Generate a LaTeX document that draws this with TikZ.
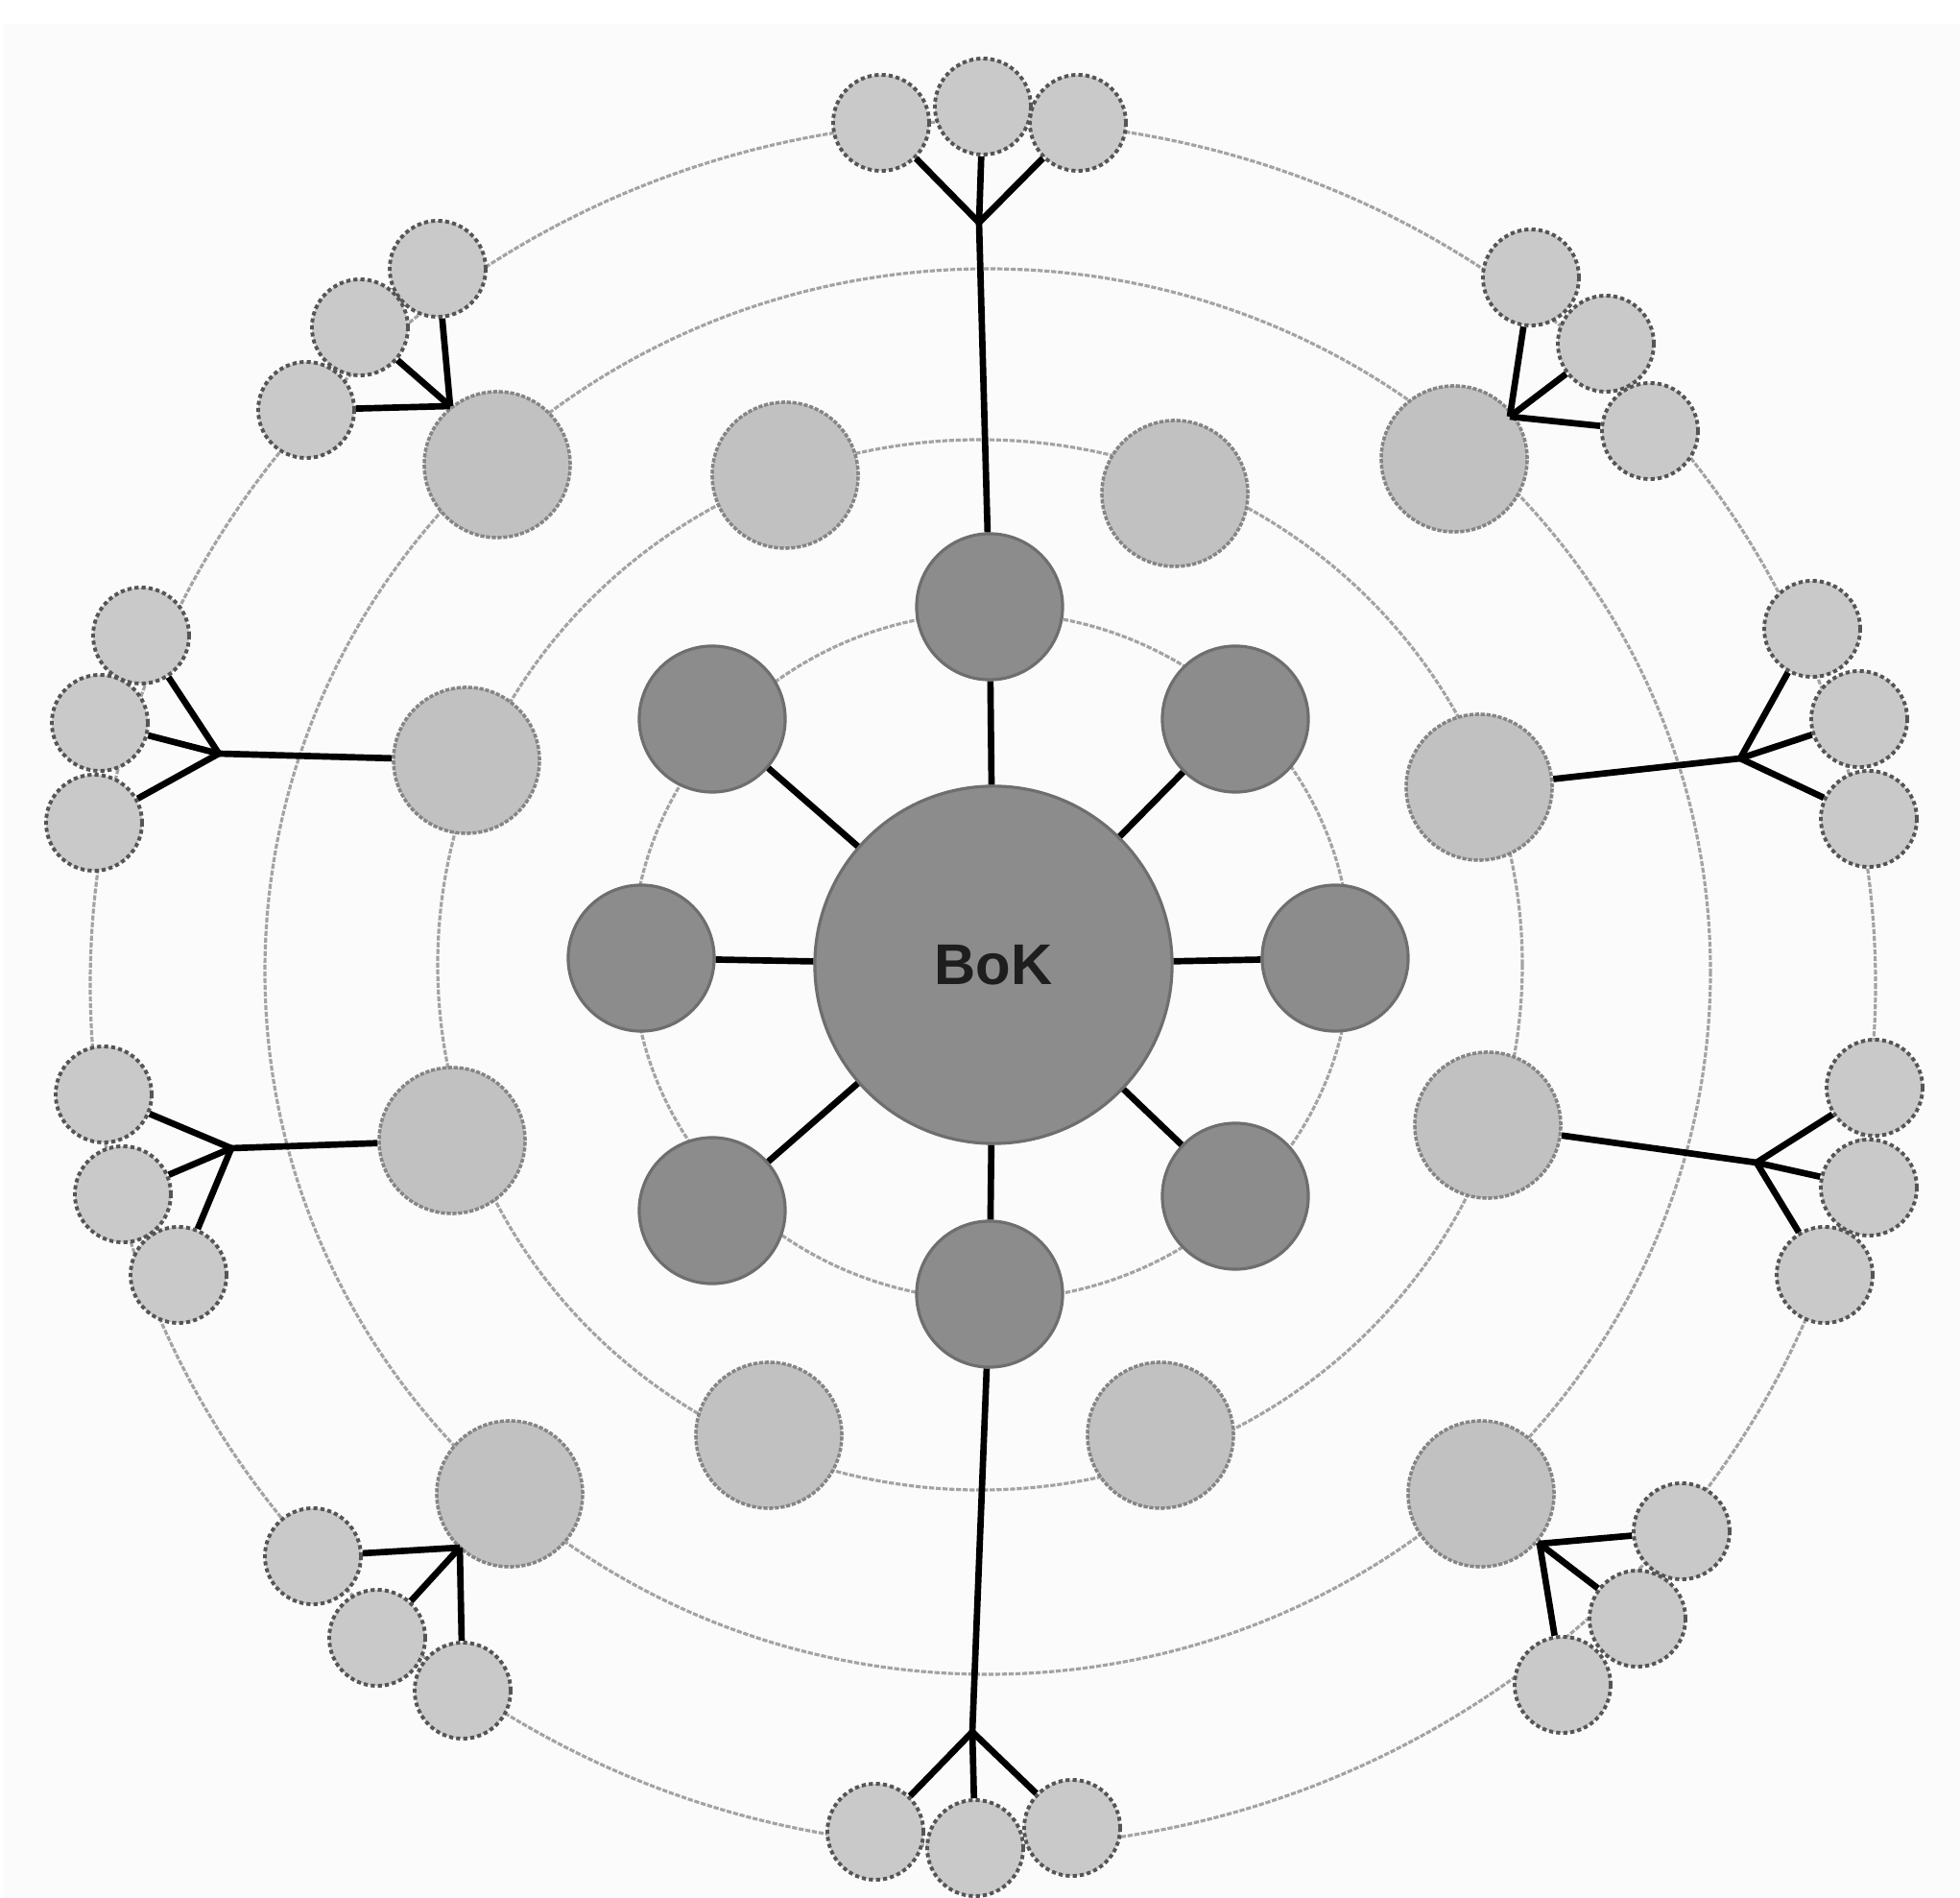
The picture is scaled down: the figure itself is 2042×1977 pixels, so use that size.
\documentclass[tikz,border=0pt]{standalone}
\usepackage{fontspec}
\setmainfont{Liberation Sans}
\definecolor{bggray}{HTML}{FBFBFB}
\definecolor{ringgray}{HTML}{A3A3A3}
\definecolor{bokfill}{HTML}{8C8C8C}
\definecolor{bokedge}{HTML}{6E6E6E}
\definecolor{topicfill}{HTML}{C1C1C1}
\definecolor{topicedge}{HTML}{858585}
\definecolor{leaffill}{HTML}{C9C9C9}
\definecolor{leafedge}{HTML}{555555}
\definecolor{boktext}{HTML}{1E1E1E}

\begin{document}
\begin{tikzpicture}
[x=0.01cm,y=-0.01cm,
ring/.style={draw=ringgray,line width=0.9pt,dash pattern=on 1.5pt off 0.5pt},
bok/.style={circle,draw=bokedge,fill=bokfill,line width=0.9pt,minimum size=3.72cm,inner sep=0pt,text=boktext,font=\fontsize{17}{20}\selectfont\bfseries},
core/.style={circle,draw=bokedge,fill=bokfill,line width=0.9pt,minimum size=1.52cm,inner sep=0pt},
topic/.style={circle,draw=topicedge,fill=topicfill,line width=1pt,dash pattern=on 1.2pt off 0.5pt,minimum size=1.52cm,inner sep=0pt},
leaf/.style={circle,draw=leafedge,fill=leaffill,line width=1.1pt,dash pattern=on 1.2pt off 0.9pt,minimum size=1cm,inner sep=0pt},
link/.style={draw=black,line width=1.9pt},]

\useasboundingbox (0,0) rectangle (2042,1977);
\fill[bggray] (3,25) rectangle (2042,1977);

% rings
\draw[ring] (1033,996) ellipse [x radius=374, y radius=358];
\draw[ring] (1021,1005) ellipse [x radius=565, y radius=547];
\draw[ring] (1029,1012) ellipse [x radius=753, y radius=732];
\draw[ring] (1024,1025) ellipse [x radius=930, y radius=899];

% body of knowledge and its core areas
\node (K) at (1035,1005)[bok]{BoK};
\node (c1) at (1031,632)[core]{};
\node (c2) at (1287,749)[core]{};
\node (c3) at (1391,998)[core]{};
\node (c4) at (1287,1246)[core]{};
\node (c5) at (1031,1348)[core]{};
\node (c6) at (742,1261)[core]{};
\node (c7) at (668,998)[core]{};
\node (c8) at (742,749)[core]{};

% second ring
\node (t1) at (818,495)[topic]{};
\node (t2) at (1224,514)[topic]{};
\node (t3) at (486,792)[topic]{};
\node (t4) at (1541,820)[topic]{};
\node (t5) at (471,1188)[topic]{};
\node (t6) at (1550,1172)[topic]{};
\node (t7) at (801,1495)[topic]{};
\node (t8) at (1209,1495)[topic]{};

% third ring
\node (u1) at (518,484)[topic]{};
\node (u2) at (1515,478)[topic]{};
\node (u3) at (531,1556)[topic]{};
\node (u4) at (1543,1556)[topic]{};

% branch points
\coordinate (jN) at (1020,232);
\coordinate (jS) at (1013,1804);
\coordinate (jNW) at (469,423);
\coordinate (jW1) at (228,785);
\coordinate (jW2) at (241,1196);
\coordinate (jSW) at (479,1612);
\coordinate (jNE) at (1573,434);
\coordinate (jE1) at (1813,790);
\coordinate (jE2) at (1830,1211);
\coordinate (jSE) at (1604,1608);

% outer leaves
\node (N1) at (918,128)[leaf]{};
\node (N3) at (1123,128)[leaf]{};
\node (N2) at (1024,111)[leaf]{};
\node (S1) at (912,1908)[leaf]{};
\node (S3) at (1117,1904)[leaf]{};
\node (S2) at (1016,1925)[leaf]{};
\node (NW1) at (456,280)[leaf]{};
\node (NW2) at (375,341)[leaf]{};
\node (NW3) at (319,427)[leaf]{};
\node (W11) at (147,662)[leaf]{};
\node (W12) at (104,753)[leaf]{};
\node (W13) at (98,857)[leaf]{};
\node (W21) at (108,1140)[leaf]{};
\node (W22) at (128,1244)[leaf]{};
\node (W23) at (186,1328)[leaf]{};
\node (SW1) at (326,1621)[leaf]{};
\node (SW2) at (393,1706)[leaf]{};
\node (SW3) at (482,1761)[leaf]{};
\node (NE1) at (1595,289)[leaf]{};
\node (NE2) at (1673,358)[leaf]{};
\node (NE3) at (1719,449)[leaf]{};
\node (E11) at (1888,655)[leaf]{};
\node (E12) at (1937,749)[leaf]{};
\node (E13) at (1947,853)[leaf]{};
\node (E21) at (1953,1133)[leaf]{};
\node (E22) at (1947,1237)[leaf]{};
\node (E23) at (1901,1328)[leaf]{};
\node (SE1) at (1752,1595)[leaf]{};
\node (SE2) at (1706,1686)[leaf]{};
\node (SE3) at (1628,1755)[leaf]{};

% spokes
\draw[link] (K)--(c1);
\draw[link] (K)--(c2);
\draw[link] (K)--(c3);
\draw[link] (K)--(c4);
\draw[link] (K)--(c5);
\draw[link] (K)--(c6);
\draw[link] (K)--(c7);
\draw[link] (K)--(c8);

% branches
\draw[link] (c1)--(jN);
\draw[link] (jN)--(N1);
\draw[link] (jN)--(N2);
\draw[link] (jN)--(N3);
\draw[link] (c5)--(jS);
\draw[link] (jS)--(S1);
\draw[link] (jS)--(S2);
\draw[link] (jS)--(S3);
\draw[link] (u1)--(jNW);
\draw[link] (jNW)--(NW1);
\draw[link] (jNW)--(NW2);
\draw[link] (jNW)--(NW3);
\draw[link] (t3)--(jW1);
\draw[link] (jW1)--(W11);
\draw[link] (jW1)--(W12);
\draw[link] (jW1)--(W13);
\draw[link] (t5)--(jW2);
\draw[link] (jW2)--(W21);
\draw[link] (jW2)--(W22);
\draw[link] (jW2)--(W23);
\draw[link] (u3)--(jSW);
\draw[link] (jSW)--(SW1);
\draw[link] (jSW)--(SW2);
\draw[link] (jSW)--(SW3);
\draw[link] (u2)--(jNE);
\draw[link] (jNE)--(NE1);
\draw[link] (jNE)--(NE2);
\draw[link] (jNE)--(NE3);
\draw[link] (t4)--(jE1);
\draw[link] (jE1)--(E11);
\draw[link] (jE1)--(E12);
\draw[link] (jE1)--(E13);
\draw[link] (t6)--(jE2);
\draw[link] (jE2)--(E21);
\draw[link] (jE2)--(E22);
\draw[link] (jE2)--(E23);
\draw[link] (u4)--(jSE);
\draw[link] (jSE)--(SE1);
\draw[link] (jSE)--(SE2);
\draw[link] (jSE)--(SE3);

\end{tikzpicture}
\end{document}
